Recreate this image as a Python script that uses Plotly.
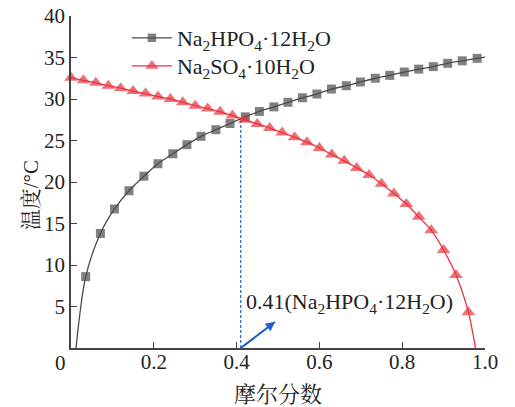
import plotly.graph_objects as go

# Na2HPO4·12H2O (squares); first/last entries are curve end points without markers
hpo_x = [0.012, 0.0355, 0.071, 0.105, 0.140, 0.176, 0.210, 0.246, 0.280, 0.314, 0.350,
         0.384, 0.421, 0.455, 0.490, 0.524, 0.559, 0.594, 0.629, 0.665, 0.699,
         0.735, 0.770, 0.805, 0.840, 0.875, 0.910, 0.945, 0.981, 1.0]
hpo_y = [0.0, 8.6, 13.8, 16.75, 18.95, 20.7, 22.2, 23.4, 24.5, 25.5, 26.3,
         27.05, 27.85, 28.5, 29.05, 29.6, 30.15, 30.6, 31.2, 31.6, 32.05,
         32.5, 32.85, 33.25, 33.6, 33.9, 34.3, 34.6, 34.9, 35.05]

# Na2SO4·10H2O (triangles); last entry is the curve end point
so4_x = [0.00, 0.03, 0.06, 0.09, 0.12, 0.15, 0.18, 0.21, 0.24, 0.27, 0.30,
         0.33, 0.36, 0.39, 0.42, 0.45, 0.48, 0.51, 0.54, 0.57, 0.60, 0.63,
         0.66, 0.69, 0.72, 0.75, 0.78, 0.81, 0.84, 0.87, 0.90, 0.93, 0.96, 0.977]
so4_y = [32.55, 32.25, 31.95, 31.6, 31.3, 30.95, 30.65, 30.3, 30.0, 29.6, 29.2,
         28.85, 28.45, 28.0, 27.5, 27.0, 26.5, 25.95, 25.4, 24.8, 24.1, 23.3,
         22.55, 21.7, 20.85, 19.8, 18.6, 17.35, 15.8, 14.2, 11.8, 8.8, 4.3, 0.0]

eutectic_x = 0.41
eutectic_y = 27.35
arrow_x = [0.41, 0.493]
arrow_y = [0.0, 3.15]

x_ticks = [0.2, 0.4, 0.6, 0.8, 1.0]
x_ticktext = ["0.2", "0.4", "0.6", "0.8", "1.0"]
y_ticks = [5, 10, 15, 20, 25, 30, 35, 40]

FONT = "Times New Roman, Liberation Serif, Noto Serif CJK SC, Noto Sans CJK SC, serif"
GREY = "#4a4a4a"
RED = "#e8343f"
BLUE = "#1f5fd0"
TXT = "#222222"

hpo_sizes = [0] + [9] * (len(hpo_x) - 2) + [0]
so4_sizes = [12] * (len(so4_x) - 1) + [0]

fig = go.Figure()
fig.add_trace(go.Scatter(
    x=hpo_x, y=hpo_y, mode="lines+markers",
    name="Na<sub>2</sub>HPO<sub>4</sub>·12H<sub>2</sub>O",
    line=dict(color=GREY, width=1.3, shape="spline", smoothing=0.8),
    marker=dict(symbol="square", size=hpo_sizes, color=GREY, line=dict(width=0)),
    cliponaxis=False, legend="legend",
))
fig.add_trace(go.Scatter(
    x=so4_x, y=so4_y, mode="lines+markers",
    name="Na<sub>2</sub>SO<sub>4</sub>·10H<sub>2</sub>O",
    line=dict(color=RED, width=1.3, shape="spline", smoothing=0.8),
    marker=dict(symbol="triangle-up", size=so4_sizes, color=RED, line=dict(width=0)),
    cliponaxis=False, legend="legend2",
))

# dashed eutectic line
fig.add_shape(type="line", xref="x", yref="y",
              x0=eutectic_x, x1=eutectic_x, y0=0, y1=eutectic_y,
              line=dict(color=BLUE, width=1.2, dash="3px,2px"))

# arrow shaft as a path shape
fig.add_shape(type="path", xref="x", yref="y",
              path=f"M {arrow_x[0]},{arrow_y[0]} L {arrow_x[1]},{arrow_y[1]}",
              line=dict(color=BLUE, width=1.7), layer="above")
# arrow head (standard annotation arrow with pixel offset tail)
fig.add_annotation(
    x=arrow_x[1], y=arrow_y[1], xref="x", yref="y",
    ax=-34, ay=26, text="", showarrow=True, arrowhead=2, arrowsize=1.1,
    arrowwidth=1.7, arrowcolor=BLUE, standoff=0,
)

fig.add_annotation(
    x=0.418, y=5.4, xref="x", yref="y", xanchor="left", yanchor="middle",
    text="0.41(Na<sub>2</sub>HPO<sub>4</sub>·12H<sub>2</sub>O)", showarrow=False,
    font=dict(family=FONT, size=22, color=TXT),
)
# shared corner zero label
fig.add_annotation(
    x=0, y=0, xref="paper", yref="paper", text="0", showarrow=False,
    xanchor="center", yanchor="middle",
    xshift=-11, yshift=-15, font=dict(family=FONT, size=21, color=TXT),
)
# y-axis title
fig.add_annotation(
    x=0, y=0.46, xref="paper", yref="paper", text="温度/°C", showarrow=False,
    xanchor="center", yanchor="middle", textangle=-90,
    xshift=-40, font=dict(family=FONT, size=21, color=TXT),
)

axis_common = dict(
    showline=True, linecolor="#444", linewidth=1.5, mirror=False,
    ticks="inside", ticklen=6, tickwidth=1.3, tickcolor="#444",
    showgrid=False, zeroline=False, automargin=False,
    tickfont=dict(family=FONT, size=21, color=TXT),
)

legend_common = dict(
    xanchor="left", yanchor="middle", bgcolor="rgba(0,0,0,0)",
    font=dict(family=FONT, size=22, color=TXT), itemwidth=40,
)

fig.update_layout(
    width=515, height=407,
    margin=dict(l=71, r=30, t=16, b=59, autoexpand=False),
    paper_bgcolor="white", plot_bgcolor="white",
    font=dict(family=FONT, color=TXT),
    xaxis=dict(range=[0, 1.0], tickvals=x_ticks, ticktext=x_ticktext,
               ticklabelstandoff=-6,
               title=dict(text="摩尔分数", font=dict(family=FONT, size=22), standoff=14),
               **axis_common),
    yaxis=dict(range=[0, 40], tickvals=y_ticks, **axis_common),
    legend=dict(x=0.135, y=(348 - 38) / 332, **legend_common),
    legend2=dict(x=0.135, y=(348 - 66) / 332, **legend_common),
    showlegend=True,
)

fig.write_html("out.html")
